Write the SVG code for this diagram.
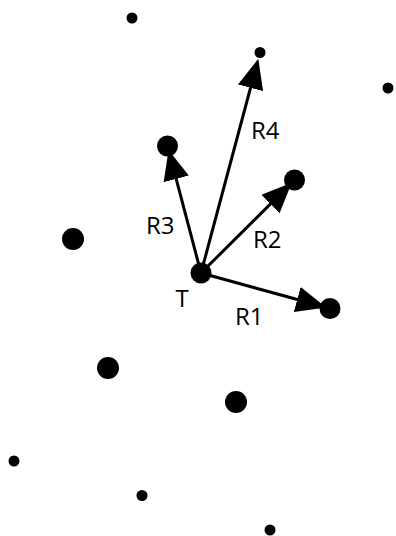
<svg xmlns="http://www.w3.org/2000/svg" width="396" height="536" viewBox="0 0 396 536">
<style>
.big{fill:#000}
.small{fill:#000}
.edge{stroke:#000;stroke-width:3;fill:none}
.lbl{font-family:"Open Sans","Noto Sans","DejaVu Sans",sans-serif;font-size:24px;fill:#000}
</style>
<defs>
<marker id="ah" markerUnits="userSpaceOnUse" markerWidth="30" markerHeight="26" viewBox="0 0 30 26" refX="20" refY="13" orient="auto">
<path d="M0,0 L30,13 L0,26 Z" fill="#000"/>
</marker>
</defs>
<rect width="396" height="536" fill="#fff"/>
<g id="connectors">
<line class="edge" x1="201" y1="273" x2="316.5" y2="304.8" marker-end="url(#ah)"/>
<line class="edge" x1="201" y1="273" x2="284.6" y2="189.9" marker-end="url(#ah)"/>
<line class="edge" x1="201" y1="273" x2="171.1" y2="159.6" marker-end="url(#ah)"/>
<line class="edge" x1="201" y1="273" x2="255.7" y2="68.5" marker-end="url(#ah)"/>
</g>
<g id="T"><circle class="big" cx="201" cy="273" r="10.5"/><text class="lbl" x="175.5" y="307">T</text></g>
<g id="R1"><circle class="big" cx="330" cy="308.5" r="10.5"/><text class="lbl" x="235" y="325">R1</text></g>
<g id="R2"><circle class="big" cx="294.5" cy="180" r="10.5"/><text class="lbl" x="253" y="248">R2</text></g>
<g id="R3"><circle class="big" cx="167.5" cy="146" r="10.5"/><text class="lbl" x="146" y="234">R3</text></g>
<g id="R4"><circle class="small" cx="260" cy="52.5" r="5.5"/><text class="lbl" x="251" y="139">R4</text></g>
<g id="n1"><circle class="big" cx="73" cy="239" r="11"/></g>
<g id="n2"><circle class="big" cx="108" cy="368" r="11"/></g>
<g id="n3"><circle class="big" cx="236" cy="402" r="11"/></g>
<g id="n4"><circle class="small" cx="132" cy="18" r="5.5"/></g>
<g id="n5"><circle class="small" cx="388" cy="88" r="5.5"/></g>
<g id="n6"><circle class="small" cx="14" cy="461" r="5.5"/></g>
<g id="n7"><circle class="small" cx="142" cy="495.5" r="5.5"/></g>
<g id="n8"><circle class="small" cx="270" cy="530" r="5.5"/></g>
</svg>
